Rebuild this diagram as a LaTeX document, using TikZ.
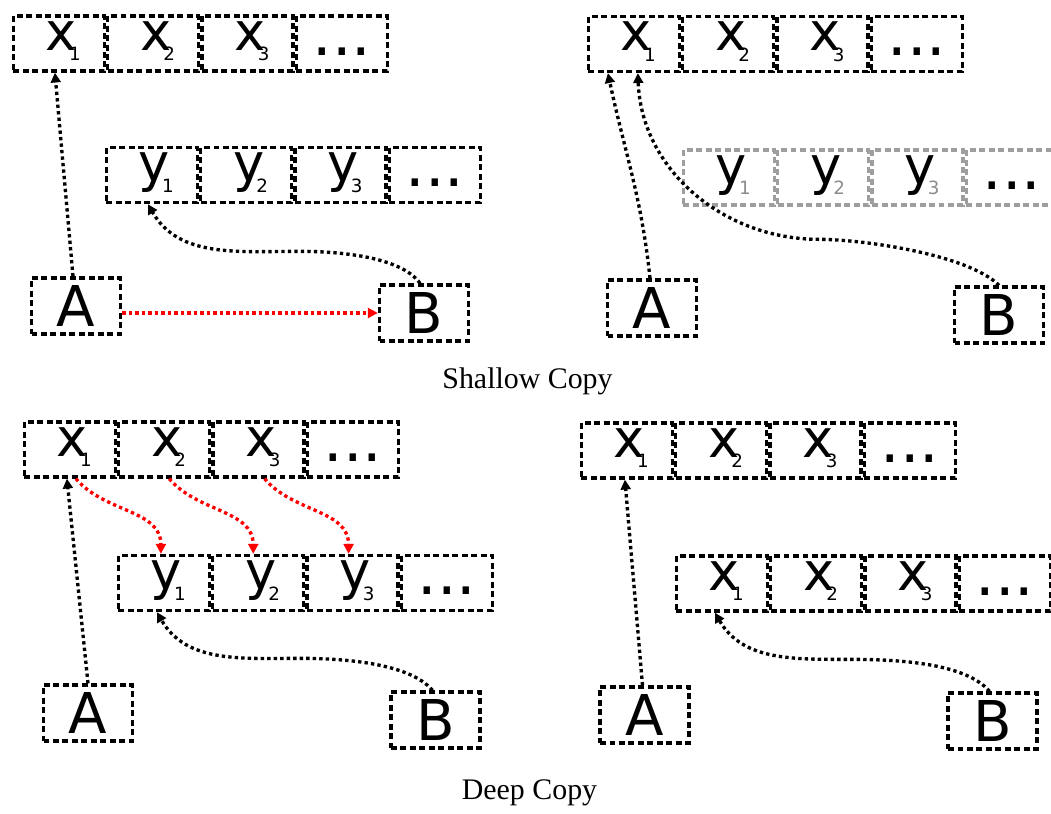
\documentclass[tikz,border=0pt]{standalone}
\usepackage{fontspec}
\usetikzlibrary{positioning}
\usetikzlibrary{arrows.meta}
\newfontfamily\cellfont{DejaVu Sans}
\newfontfamily\capfont{Liberation Serif}
% letter with a small index tucked under its right side
\newcommand{\elem}[2]{\kern2.5pt#1\kern-0.15em\raisebox{-0.2em}{\fontsize{5.2}{6}\selectfont#2}}
\newcommand{\more}{\raisebox{-1.5pt}{\fontsize{17.5}{20}\selectfont...}}

\tikzset{
  cell/.style={draw, line width=0.95pt, dash pattern=on 1.7pt off 1pt,
    minimum width=0.91cm, minimum height=0.55cm, inner sep=0pt,
    font=\cellfont\fontsize{15}{18}\selectfont, text height=6.5pt, text depth=2.7pt},
  oldcell/.style={cell, draw=black!38},
  var/.style={draw, line width=0.95pt, dash pattern=on 1.7pt off 1pt,
    minimum width=0.89cm, minimum height=0.56cm, inner sep=0pt,
    font=\cellfont\fontsize{16}{19}\selectfont},
  ref/.style={line width=0.95pt, dash pattern=on 0.95pt off 0.9pt,
    -{Triangle[length=2.8pt,width=2.8pt]}},
  copyref/.style={ref, red},
  caption/.style={font=\capfont\fontsize{8.5}{10}\selectfont, anchor=base}
}

\begin{document}
\begin{tikzpicture}
	\useasboundingbox (0,0) rectangle (10.51,8.13);

	% shallow copy, before
	\node[cell] (slx1) at (0.589,7.695) {\elem{x}{1}};
	\node[cell, right=0pt of slx1] (slx2) {\elem{x}{2}};
	\node[cell, right=0pt of slx2] (slx3) {\elem{x}{3}};
	\node[cell, right=0pt of slx3] (slx4) {\more};
	\node[cell] (sly1) at (1.519,6.38) {\elem{y}{1}};
	\node[cell, right=0pt of sly1] (sly2) {\elem{y}{2}};
	\node[cell, right=0pt of sly2] (sly3) {\elem{y}{3}};
	\node[cell, right=0pt of sly3] (sly4) {\more};
	\node[var] (slA) at (0.76,5.07) {A};
	\node[var] (slB) at (4.24,5.00) {B};
	\draw[ref] ([xshift=-0.03cm]slA.north) -- ([xshift=-0.04cm]slx1.south);
	\draw[ref] ([xshift=-0.04cm]slB.north) to[out=125,in=0,looseness=0.7] ++(-1.2,0.32)
		to[out=180,in=-60] ([xshift=-0.04cm]sly1.south);
	\draw[copyref] (slA.east |- slB.west) -- (slB.west);

	% shallow copy, after
	\node[cell] (srx1) at (6.339,7.69) {\elem{x}{1}};
	\node[cell, right=0pt of srx1] (srx2) {\elem{x}{2}};
	\node[cell, right=0pt of srx2] (srx3) {\elem{x}{3}};
	\node[cell, right=0pt of srx3] (srx4) {\more};
	\node[oldcell] (sry1) at (7.289,6.355) {\elem{y}{\color{black!45}1}};
	\node[oldcell, right=0pt of sry1] (sry2) {\elem{y}{\color{black!45}2}};
	\node[oldcell, right=0pt of sry2] (sry3) {\elem{y}{\color{black!45}3}};
	\node[oldcell, right=0pt of sry3] (sry4) {\more};
	\node[var] (srA) at (6.52,5.05) {A};
	\node[var] (srB) at (9.99,4.98) {B};
	\draw[ref] ([xshift=-0.02cm]srA.north) to[out=96,in=-78] ([xshift=-0.26cm]srx1.south);
	\draw[ref] (srB.north) to[out=135,in=0,looseness=0.6] ++(-1.8,0.46)
		to[out=180,in=-88] ([xshift=0.04cm]srx1.south);

	\node[caption] (shallow) at (5.275,4.25) {Shallow Copy};

	% deep copy, before
	\node[cell] (dlx1) at (0.699,3.635) {\elem{x}{1}};
	\node[cell, right=0pt of dlx1] (dlx2) {\elem{x}{2}};
	\node[cell, right=0pt of dlx2] (dlx3) {\elem{x}{3}};
	\node[cell, right=0pt of dlx3] (dlx4) {\more};
	\node[cell] (dly1) at (1.639,2.30) {\elem{y}{1}};
	\node[cell, right=0pt of dly1] (dly2) {\elem{y}{2}};
	\node[cell, right=0pt of dly2] (dly3) {\elem{y}{3}};
	\node[cell, right=0pt of dly3] (dly4) {\more};
	\node[var] (dlA) at (0.88,1.00) {A};
	\node[var] (dlB) at (4.355,0.93) {B};
	\draw[ref] (dlA.north) -- ([xshift=-0.03cm]dlx1.south);
	\draw[copyref] ([xshift=0.06cm]dlx1.south) to[out=-50,in=90] ([xshift=-0.03cm]dly1.north);
	\draw[copyref] ([xshift=0.05cm]dlx2.south) to[out=-50,in=90] ([xshift=-0.05cm]dly2.north);
	\draw[copyref] ([xshift=0.06cm]dlx3.south) to[out=-50,in=90] ([xshift=-0.04cm]dly3.north);
	\draw[ref] ([xshift=-0.03cm]dlB.north) to[out=130,in=0,looseness=0.7] ++(-1.32,0.32)
		to[out=180,in=-60] ([xshift=-0.07cm]dly1.south);

	% deep copy, after
	\node[cell] (drx1) at (6.269,3.625) {\elem{x}{1}};
	\node[cell, right=0pt of drx1] (drx2) {\elem{x}{2}};
	\node[cell, right=0pt of drx2] (drx3) {\elem{x}{3}};
	\node[cell, right=0pt of drx3] (drx4) {\more};
	\node[cell] (drc1) at (7.219,2.295) {\elem{x}{1}};
	\node[cell, right=0pt of drc1] (drc2) {\elem{x}{2}};
	\node[cell, right=0pt of drc2] (drc3) {\elem{x}{3}};
	\node[cell, right=0pt of drc3] (drc4) {\more};
	\node[var] (drA) at (6.445,0.98) {A};
	\node[var] (drB) at (9.925,0.92) {B};
	\draw[ref] ([xshift=-0.02cm]drA.north) -- ([xshift=-0.02cm]drx1.south);
	\draw[ref] ([xshift=-0.03cm]drB.north) to[out=130,in=0,looseness=0.7] ++(-1.4,0.32)
		to[out=180,in=-60] ([xshift=-0.07cm]drc1.south);

	\node[caption] (deep) at (5.295,0.14) {Deep Copy};
\end{tikzpicture}
\end{document}
